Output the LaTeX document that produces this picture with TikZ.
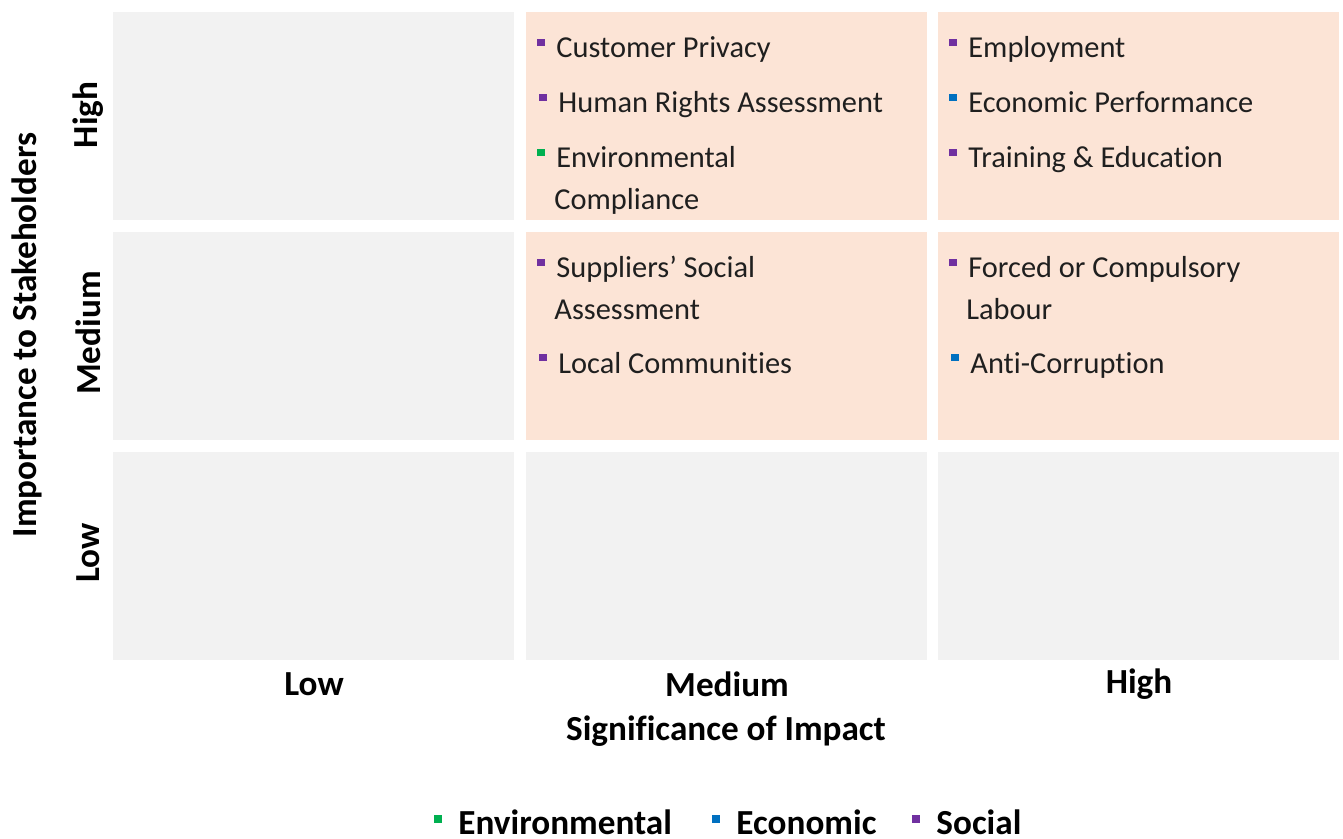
\documentclass[tikz,border=0pt]{standalone}
\usepackage{fontspec}
\setmainfont{Carlito}[Ligatures=NoCommon]
\definecolor{cellgrey}{HTML}{F2F2F2}
\definecolor{cellpeach}{HTML}{FCE4D6}
\definecolor{envgreen}{HTML}{00B050}
\definecolor{ecoblue}{HTML}{0070C0}
\definecolor{socpurple}{HTML}{7030A0}
\tikzset{
  cell/.style={anchor=north west, minimum width=200.5pt, minimum height=104pt, inner sep=0pt},
  topic/.style={anchor=base west, inner sep=0pt, text=black!88,
    font=\fontsize{15.2}{18}\selectfont},
  dot/.style={inner sep=0pt, minimum size=3.6pt},
  axislabel/.style={font=\fontsize{17.6}{20}\selectfont\bfseries, inner sep=0pt},
  keytext/.style={anchor=base west, inner sep=0pt, font=\fontsize{17.6}{20}\selectfont\bfseries}
}
% one entry of a cell: name, x, baseline y, colour, text
\newcommand\topic[5]{%
  \node[topic] (#1) at (#2,#3) {#5};
  \node[dot, fill=#4] (#1-dot) at ([xshift=-7.5pt,yshift=7.6pt]#1.base west) {};
}
\begin{document}
\begin{tikzpicture}[x=0.5pt,y=-0.5pt]
\useasboundingbox (0,0) rectangle (1343,839);

% the 3 x 3 grid
\node[cell, fill=cellgrey]  (lowhigh) at (113,12) {};
\node[cell, fill=cellpeach] (medhigh) at (526,12) {};
\node[cell, fill=cellpeach] (highhigh) at (938,12) {};
\node[cell, fill=cellgrey]  (lowmed) at (113,232) {};
\node[cell, fill=cellpeach] (medmed) at (526,232) {};
\node[cell, fill=cellpeach] (highmed) at (938,232) {};
\node[cell, fill=cellgrey]  (lowlow) at (113,452) {};
\node[cell, fill=cellgrey]  (medlow) at (526,452) {};
\node[cell, fill=cellgrey]  (highlow) at (938,452) {};

% topics
\topic{privacy}{556}{58}{socpurple}{Customer Privacy}
\topic{rights}{558}{113}{socpurple}{Human Rights Assessment}
\topic{envcomp}{556}{168}{envgreen}{Environmental}
\node[topic] (envcomp-2) at (554,210) {Compliance};
\topic{employ}{968}{58}{socpurple}{Employment}
\topic{ecoperf}{968}{113}{ecoblue}{Economic Performance}
\topic{training}{968}{168}{socpurple}{Training \& Education}
\topic{suppliers}{556}{278}{socpurple}{Suppliers' Social}
\node[topic] (suppliers-2) at (554,320) {Assessment};
\topic{communities}{558}{373}{socpurple}{Local Communities}
\topic{forced}{968}{278}{socpurple}{Forced or Compulsory}
\node[topic] (forced-2) at (966,320) {Labour};
\topic{corruption}{970}{373}{ecoblue}{Anti-Corruption}

% axes
\node[axislabel] (xlow) at (314,684) {Low};
\node[axislabel] (xmed) at (727,684) {Medium};
\node[axislabel] (xhigh) at (1139,684) {High};
\node[axislabel] (xtitle) at (726,731) {Significance of Impact};
\node[axislabel, rotate=90] (yhigh) at (88,115) {High};
\node[axislabel, rotate=90] (ymed) at (88,333) {Medium};
\node[axislabel, rotate=90] (ylow) at (88,553) {Low};
\node[axislabel, rotate=90] (ytitle) at (27,335) {Importance to Stakeholders};

% key
\node[keytext] (keyenv) at (458,834) {Environmental};
\node[dot, minimum size=4.2pt, fill=envgreen] (keyenv-dot) at ([xshift=-10pt,yshift=7.5pt]keyenv.base west) {};
\node[keytext] (keyeco) at (736,834) {Economic};
\node[dot, minimum size=4.2pt, fill=ecoblue] (keyeco-dot) at ([xshift=-10pt,yshift=7.5pt]keyeco.base west) {};
\node[keytext] (keysoc) at (936,834) {Social};
\node[dot, minimum size=4.2pt, fill=socpurple] (keysoc-dot) at ([xshift=-10pt,yshift=7.5pt]keysoc.base west) {};
\end{tikzpicture}
\end{document}
